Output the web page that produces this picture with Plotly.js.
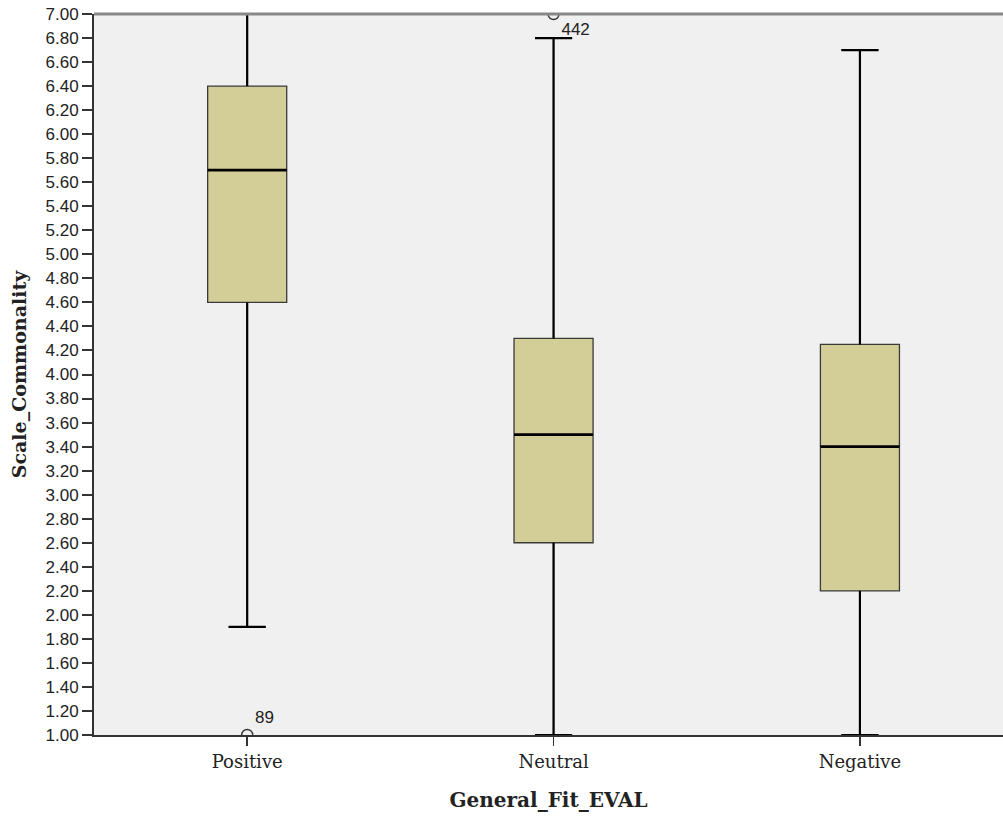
<!DOCTYPE html>
<html>
<head>
<meta charset="utf-8">
<script src="https://cdn.plot.ly/plotly-3.0.1.min.js"></script>
<style>html,body{margin:0;padding:0;background:#fff;}#chart{width:1003px;height:816px;}</style>
</head>
<body>
<div id="chart"></div>
<script>
const categories = ["Positive", "Neutral", "Negative"];
const lowerWhisker = [1.90, 1.00, 1.00];
const q1 = [4.60, 2.60, 2.20];
const median = [5.70, 3.50, 3.40];
const q3 = [6.40, 4.30, 4.25];
const upperWhisker = [7.00, 6.80, 6.70];
const outlierCategory = ["Positive", "Neutral"];
const outlierValue = [1.00, 7.00];
const outlierLabel = ["89", "442"];

const idx = categories.map((c, i) => i);
const boxW = 0.258;
const capW = boxW * 0.47;

const traces = [];
categories.forEach((c, i) => {
  traces.push({
    type: 'box',
    x: [i],
    q1: [q1[i]], median: [median[i]], q3: [q3[i]],
    lowerfence: [lowerWhisker[i]], upperfence: [upperWhisker[i]],
    width: boxW,
    whiskerwidth: 0.47,
    fillcolor: '#D3CE97',
    line: {color: '#3a3a3a', width: 1.3},
    boxpoints: false,
    hoverinfo: 'skip',
    showlegend: false
  });
});

const wx = [], wy = [];
categories.forEach((c, i) => {
  wx.push(i, i, null, i - capW / 2, i + capW / 2, null, i, i, null, i - capW / 2, i + capW / 2, null);
  wy.push(q3[i], upperWhisker[i], null, upperWhisker[i], upperWhisker[i], null,
          q1[i], lowerWhisker[i], null, lowerWhisker[i], lowerWhisker[i], null);
});
traces.push({type: 'scatter', mode: 'lines', x: wx, y: wy, line: {color: '#000', width: 2.2}, hoverinfo: 'skip', showlegend: false});

const mx = [], my = [];
categories.forEach((c, i) => {
  mx.push(i - boxW / 2, i + boxW / 2, null);
  my.push(median[i], median[i], null);
});
traces.push({type: 'scatter', mode: 'lines', x: mx, y: my, line: {color: '#000', width: 2.8}, hoverinfo: 'skip', showlegend: false});

traces.push({
  type: 'scatter', mode: 'markers+text',
  x: outlierCategory.map(c => categories.indexOf(c)),
  y: outlierValue,
  text: outlierLabel,
  textposition: ['top right', 'bottom right'],
  textfont: {family: 'Liberation Sans, Arial, sans-serif', size: 17, color: '#222'},
  marker: {symbol: 'circle-open', size: 11, color: '#333', line: {width: 1.4, color: '#333'}},
  hoverinfo: 'skip', showlegend: false
});

const layout = {
  width: 1003, height: 816,
  margin: {l: 94, r: 0, t: 14, b: 81},
  paper_bgcolor: '#ffffff',
  plot_bgcolor: '#F0F0F0',
  showlegend: false,
  xaxis: {
    range: [-0.5, 2.467],
    tickvals: idx, ticktext: categories,
    ticks: 'outside', ticklen: 9, tickwidth: 1.5, tickcolor: '#333',
    showline: true, linecolor: '#333', linewidth: 2,
    showgrid: false, zeroline: false,
    tickfont: {family: 'DejaVu Serif, serif', size: 18, color: '#222'},
    title: {text: '<b>General_Fit_EVAL</b>', font: {family: 'DejaVu Serif, serif', size: 20, color: '#222'}, standoff: 22}
  },
  yaxis: {
    range: [1, 7], dtick: 0.2, tick0: 1, tickformat: '.2f',
    ticks: 'outside', ticklen: 10, tickwidth: 2, tickcolor: '#333',
    showline: true, linecolor: '#333', linewidth: 2,
    showgrid: false, zeroline: false,
    tickfont: {family: 'Liberation Sans, Arial, sans-serif', size: 17, color: '#222'},
    title: {text: '<b>Scale_Commonality</b>', font: {family: 'DejaVu Serif, serif', size: 19, color: '#222'}, standoff: 14}
  },
  shapes: [{type: 'line', xref: 'paper', yref: 'paper', x0: 0, x1: 1, y0: 1, y1: 1, line: {color: '#888', width: 3}}]
};

Plotly.newPlot('chart', traces, layout, {staticPlot: true, displayModeBar: false});
</script>
</body>
</html>
